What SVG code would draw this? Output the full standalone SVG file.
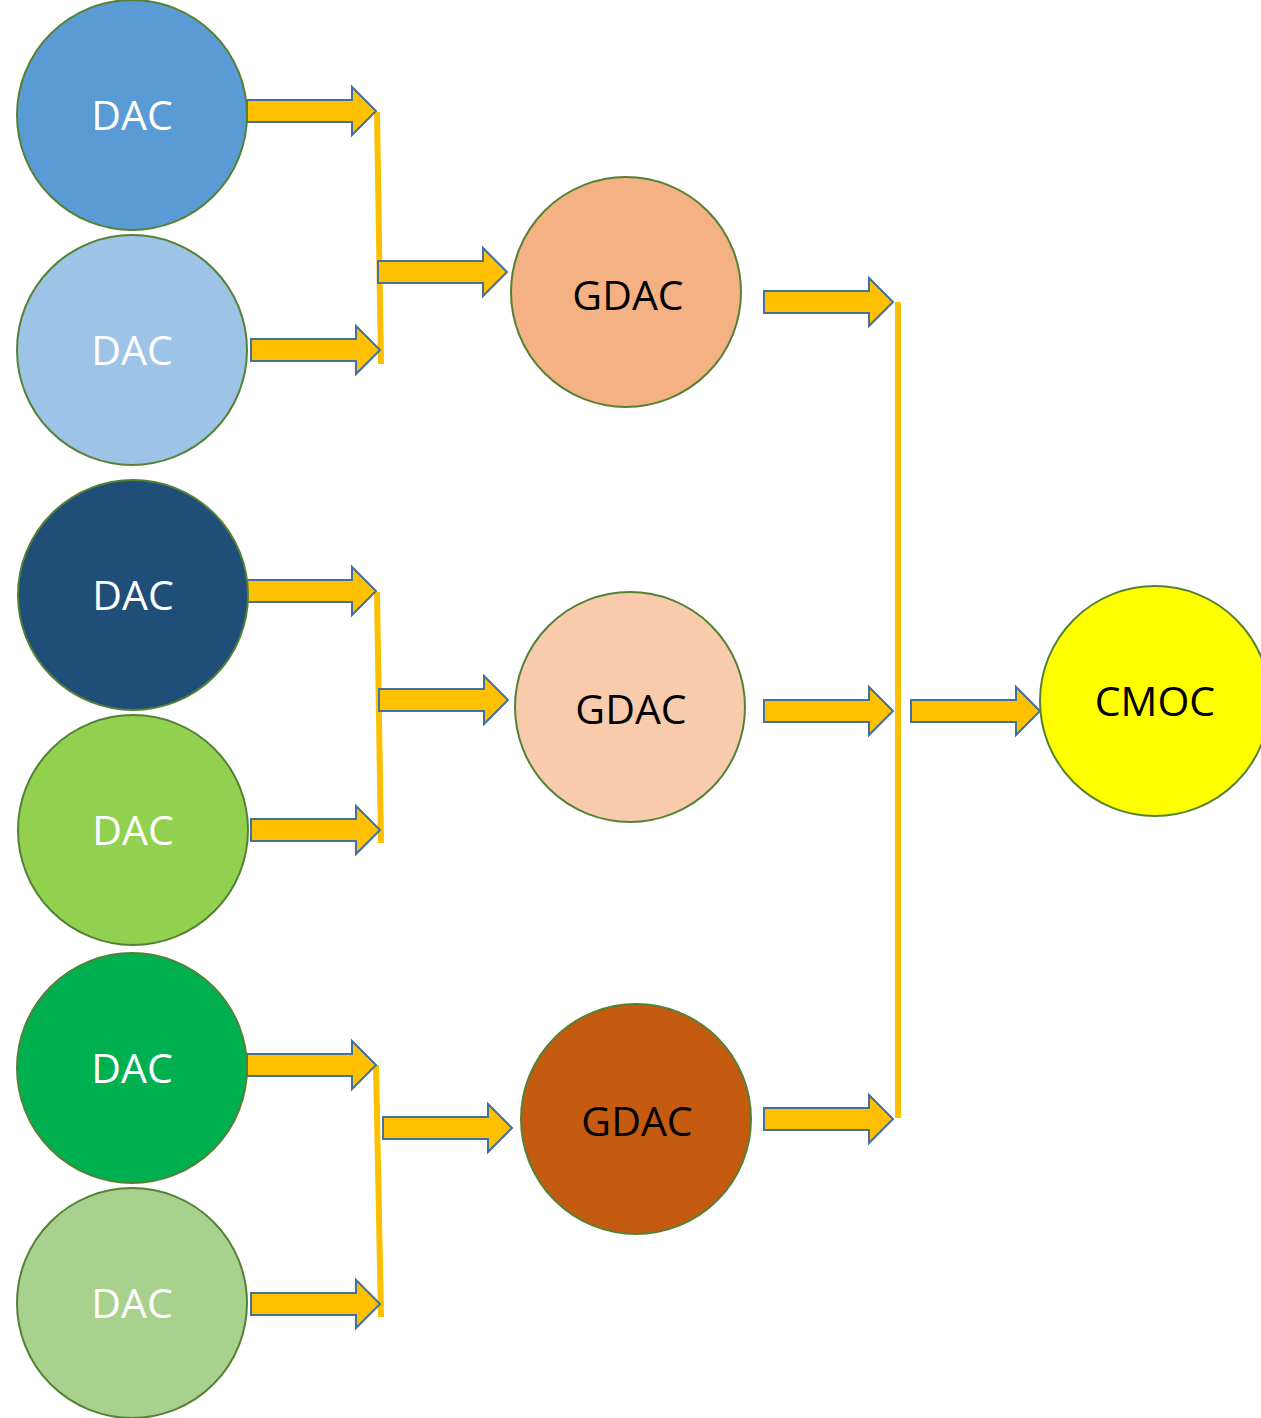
<svg xmlns="http://www.w3.org/2000/svg" width="1261" height="1418" viewBox="0 0 1261 1418">
<defs>
<style>
.node circle{stroke:#548235;stroke-width:2}
.lbl{font-family:"Open Sans","Liberation Sans",sans-serif;font-size:41px;text-anchor:middle}
.w{fill:#ffffff}
.k{fill:#000000}
.arr{fill:#FFC000;stroke:#41719C;stroke-width:2;stroke-linejoin:miter}
.bar{stroke:#FFC000;stroke-width:6;fill:none}
</style>
<path id="ba" class="arr" d="M0,-11 H105 V-24 L129,0 L105,24 V11 H0 Z"/>
</defs>
<rect width="1261" height="1418" fill="#ffffff"/>
<g id="connectors">
<line class="bar" x1="377" y1="112" x2="381" y2="364"/>
<line class="bar" x1="377" y1="592" x2="381" y2="843"/>
<line class="bar" x1="376" y1="1065" x2="381" y2="1317"/>
<line class="bar" x1="898" y1="302" x2="898" y2="1118"/>
<use href="#ba" x="247" y="111"/>
<use href="#ba" x="251" y="350"/>
<use href="#ba" x="378" y="272"/>
<use href="#ba" x="247" y="591"/>
<use href="#ba" x="251" y="830"/>
<use href="#ba" x="379" y="700"/>
<use href="#ba" x="247" y="1065"/>
<use href="#ba" x="251" y="1304"/>
<use href="#ba" x="383" y="1128"/>
<use href="#ba" x="764" y="302"/>
<use href="#ba" x="764" y="711"/>
<use href="#ba" x="764" y="1119"/>
<use href="#ba" x="911" y="711"/>
</g>
<g id="dac1" class="node"><circle cx="132" cy="115" r="115" fill="#5B9BD5"/><text class="lbl w" x="132" y="130">DAC</text></g>
<g id="dac2" class="node"><circle cx="132" cy="350" r="115" fill="#9DC3E6"/><text class="lbl w" x="132" y="365">DAC</text></g>
<g id="dac3" class="node"><circle cx="133" cy="595" r="115" fill="#1F4E79"/><text class="lbl w" x="133" y="610">DAC</text></g>
<g id="dac4" class="node"><circle cx="133" cy="830" r="115" fill="#92D050"/><text class="lbl w" x="133" y="845">DAC</text></g>
<g id="dac5" class="node"><circle cx="132" cy="1068" r="115" fill="#00B050"/><text class="lbl w" x="132" y="1083">DAC</text></g>
<g id="dac6" class="node"><circle cx="132" cy="1303" r="115" fill="#A9D18E"/><text class="lbl w" x="132" y="1318">DAC</text></g>
<g id="gdac1" class="node"><circle cx="626" cy="292" r="115" fill="#F4B183"/><text class="lbl k" x="628" y="310">GDAC</text></g>
<g id="gdac2" class="node"><circle cx="630" cy="707" r="115" fill="#F8CBAD"/><text class="lbl k" x="631" y="724">GDAC</text></g>
<g id="gdac3" class="node"><circle cx="636" cy="1119" r="115" fill="#C55A11"/><text class="lbl k" x="637" y="1136">GDAC</text></g>
<g id="cmoc" class="node"><circle cx="1155" cy="701" r="115" fill="#FFFF00"/><text class="lbl k" x="1155" y="716">CMOC</text></g>
</svg>
